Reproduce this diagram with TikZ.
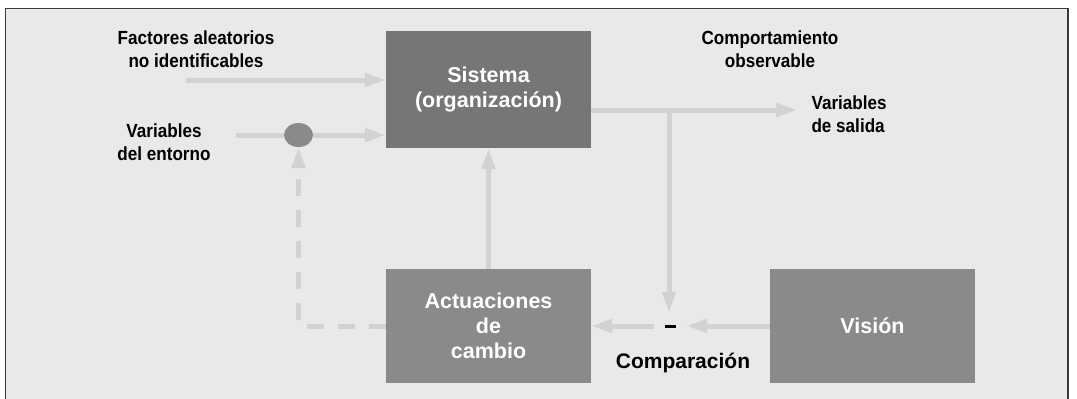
\documentclass[tikz,border=0pt]{standalone}
\usepackage{fontspec}
\setmainfont{Liberation Sans}
\newfontfamily\narrowsans{Liberation Sans}[FakeStretch=0.9]
\usetikzlibrary{arrows.meta,shapes.geometric}
\definecolor{bgc}{HTML}{E9E9E9}
\definecolor{framec}{HTML}{3A3A3A}
\definecolor{linec}{HTML}{D2D2D2}
\definecolor{darkbox}{HTML}{767676}
\definecolor{midbox}{HTML}{8A8A8A}
\tikzset{
  boxbase/.style={rectangle, inner sep=0pt, minimum width=205pt, text=white, align=center,
    font=\fontsize{21.5}{25}\selectfont\bfseries},
  sysbox/.style={boxbase, fill=darkbox, minimum height=117pt},
  actbox/.style={boxbase, fill=midbox, minimum height=114pt},
  lbl/.style={align=center, text=black, font=\narrowsans\fontsize{19}{23}\selectfont\bfseries},
  conn/.style={draw=linec, line width=5pt, -{Triangle[length=21pt,width=13pt]}, color=linec},
  plainline/.style={draw=linec, line width=5pt},
  dashconn/.style={conn, dash pattern=on 17pt off 14pt},
}
\begin{document}
\begin{tikzpicture}[x=1pt,y=-1pt]
\useasboundingbox (0,0) rectangle (1077,399);
\clip (0,0) rectangle (1077,399);
\fill[white] (0,0) rectangle (1077,399);
\draw[fill=bgc, draw=framec, line width=1.5pt] (5.5,8.5) rectangle (1068,410);

% boxes
\node[sysbox] (sis) at (488.5,89.5) {Sistema\\(organización)};
\node[actbox] (act) at (488.5,326) {Actuaciones\\de\\cambio};
\node[actbox] (vis) at (872.5,326) {Visión};
\node[ellipse, fill=midbox, minimum width=29pt, minimum height=24pt, inner sep=0pt] (ell) at (298.5,135) {};
\node[minimum width=32pt, minimum height=26pt, inner sep=0pt, text=black] (cmp) at (670,326) {\rule{11pt}{3pt}};

% labels
\node[lbl] (lfa) at (196,49) {Factores aleatorios\\no identificables};
\node[lbl] (lve) at (164,142.5) {Variables\\del entorno};
\node[lbl] (lco) at (770,49) {Comportamiento\\observable};
\node[lbl, align=left, anchor=west] (lvs) at (808,114.5) {Variables\\de salida};
\node[text=black, font=\fontsize{21}{25}\selectfont\bfseries] (lcmp) at (683,363) {Comparación};

% free ends
\coordinate (fa) at (186,80);
\coordinate (ve) at (236,135);
\coordinate (br) at (669,110);
\coordinate (outend) at (797,110);

% connectors
\draw[conn] (fa) -- (fa -| sis.west);
\draw[plainline] (ve) -- (ell.west);
\draw[conn] (ell.east) -- (ell.east -| sis.west);
\draw[conn] (sis.east |- br) -- (outend);
\draw[conn] (br) -- (br |- cmp.north);
\draw[conn] (act.north) -- (sis.south);
\draw[conn] (vis.west) -- (cmp.east);
\draw[conn] (cmp.west) -- (act.east);
\draw[dashconn] (act.west) -- (ell.south |- act.west) -- (ell.south);
\end{tikzpicture}
\end{document}
